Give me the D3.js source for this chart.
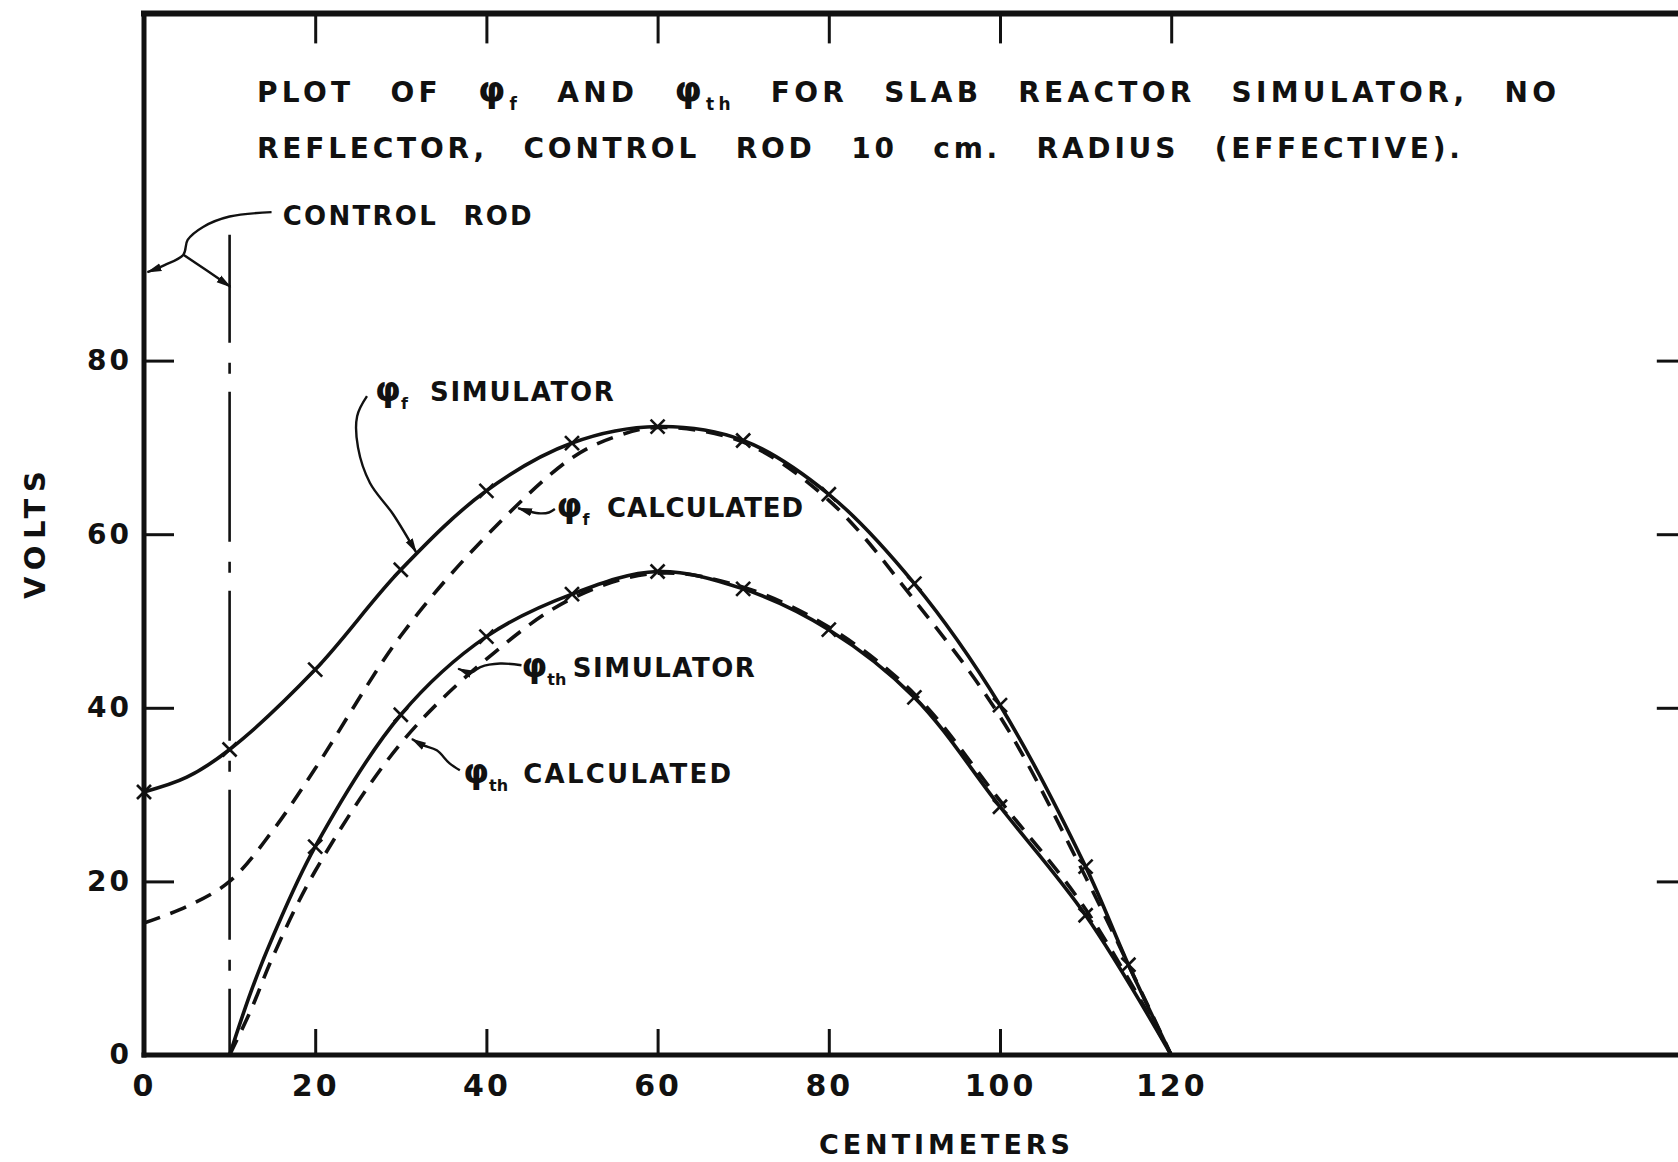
<!DOCTYPE html>
<html>
<head>
<meta charset="utf-8">
<script src="https://cdn.jsdelivr.net/npm/d3@7"></script>
<style>
  body { margin: 0; background: #fff; }
  svg { display: block; }
  text { font-family: "DejaVu Sans", sans-serif; font-weight: bold; fill: #111; }
</style>
</head>
<body>
<svg id="chart" width="1678" height="1162"></svg>
<script>
// readings: centimeters (x) vs volts (y)
var fSimX = [0, 5, 10, 20, 30, 40, 50, 60, 70, 80, 90, 100, 110, 115, 120];
var fSimV = [30.3, 32.0, 35.2, 44.4, 55.9, 65.0, 70.5, 72.4, 70.8, 64.6, 54.3, 40.3, 21.7, 10.4, 0];
var fCalcX = [0, 5, 10, 15, 20, 30, 40, 50, 55, 60, 70, 80, 90, 100, 110, 120];
var fCalcV = [15.2, 17.1, 20.0, 25.8, 33.0, 48.3, 59.8, 68.8, 71.2, 72.3, 70.6, 63.9, 52.4, 39.0, 20.5, 0];
var thSimX = [10, 12.5, 15, 20, 30, 40, 50, 60, 70, 80, 90, 100, 110, 120];
var thSimV = [0, 7.3, 13.5, 24.0, 39.2, 48.2, 53.1, 55.7, 53.7, 49.0, 41.2, 28.6, 16.1, 0];
var thCalcX = [10, 12.5, 15, 20, 30, 40, 50, 60, 70, 80, 90, 100, 110, 120];
var thCalcV = [0, 5.2, 11.2, 21.2, 35.9, 45.6, 52.6, 55.5, 53.9, 49.3, 41.6, 29.3, 16.8, 0];

// where the "x" marks sit on the simulator curves
var fSimMarks = [0, 10, 20, 30, 40, 50, 60, 70, 80, 90, 100, 110, 115];
var thSimMarks = [20, 30, 40, 50, 60, 70, 80, 90, 100, 110];

var xTickVals = [20, 40, 60, 80, 100];
var xTopTickVals = [20, 40, 60, 80, 100, 120];
var xLabelVals = [0, 20, 40, 60, 80, 100, 120];
var yTickVals = [20, 40, 60, 80];
var yLabelVals = [0, 20, 40, 60, 80];

var rodX = 10, rodTop = 94.5;

var svg = d3.select("#chart");
var x = d3.scaleLinear().domain([0, 180]).range([144, 144 + 180 * 8.56]);
var y = d3.scaleLinear().domain([0, 120]).range([1055, 13.4]);

// frame
var frame = svg.append("g").attr("stroke", "#111").attr("stroke-linecap", "square");
frame.append("line").attr("x1", x(0)).attr("x2", x(0)).attr("y1", y(120)).attr("y2", y(0)).attr("stroke-width", 5);
frame.append("line").attr("x1", x(0)).attr("x2", x(180)).attr("y1", y(120)).attr("y2", y(120)).attr("stroke-width", 6);
frame.append("line").attr("x1", x(0)).attr("x2", x(180)).attr("y1", y(0)).attr("y2", y(0)).attr("stroke-width", 5);
frame.append("line").attr("x1", x(180)).attr("x2", x(180)).attr("y1", y(120)).attr("y2", y(0)).attr("stroke-width", 5);

function ticksOnly(g) {
  g.select(".domain").remove();
  g.selectAll("line").attr("stroke", "#111").attr("stroke-width", 3);
}
function labelsOnly(g, size) {
  g.select(".domain").remove();
  g.selectAll("line").remove();
  g.selectAll("text").style("font-size", size + "px").style("letter-spacing", "3px").attr("fill", "#111");
}

svg.append("g").attr("transform", "translate(0," + y(0) + ")")
  .call(d3.axisBottom(x).tickValues(xTickVals).tickSize(-26).tickFormat("")).call(ticksOnly);
svg.append("g").attr("transform", "translate(0," + y(120) + ")")
  .call(d3.axisTop(x).tickValues(xTopTickVals).tickSize(-30).tickFormat("")).call(ticksOnly);
svg.append("g").attr("transform", "translate(" + x(0) + ",0)")
  .call(d3.axisLeft(y).tickValues(yTickVals).tickSize(-30).tickFormat("")).call(ticksOnly);
svg.append("g").attr("transform", "translate(" + x(180) + ",0)")
  .call(d3.axisRight(y).tickValues(yTickVals).tickSize(-28).tickFormat("")).call(ticksOnly);

svg.append("g").attr("transform", "translate(0," + y(0) + ")")
  .call(d3.axisBottom(x).tickValues(xLabelVals).tickSize(0).tickPadding(20)).call(labelsOnly, 30);
svg.append("g").attr("transform", "translate(" + x(0) + ",0)")
  .call(d3.axisLeft(y).tickValues(yLabelVals).tickSize(0).tickPadding(12)).call(labelsOnly, 28);

// axis titles
svg.append("text").attr("transform", "translate(45,535) rotate(-90)")
  .attr("text-anchor", "middle").style("font-size", "29px")
  .attr("textLength", 128).attr("lengthAdjust", "spacing").text("VOLTS");
svg.append("text").attr("x", 819).attr("y", 1154).style("font-size", "27px")
  .attr("textLength", 251).attr("lengthAdjust", "spacing").text("CENTIMETERS");

// title, with subscripts
function rich(text, parts, base) {
  var shift = 0;
  parts.forEach(function(p) {
    var want = p[1] === "sub" ? 8 : 0;
    var ts = text.append("tspan").attr("dy", want - shift).text(p[0]);
    shift = want;
    if (p[1] === "sub") ts.style("font-size", Math.round(base * 0.62) + "px");
    if (p[1] === "phi") ts.style("font-size", Math.round(base * 1.25) + "px");
  });
}
var t1 = svg.append("text").attr("x", 257).attr("y", 101.7).style("font-size", "28px")
  .style("word-spacing", "22px").attr("textLength", 1299).attr("lengthAdjust", "spacing");
rich(t1, [["PLOT OF "], ["φ", "phi"], ["f", "sub"], [" AND "], ["φ", "phi"], ["th", "sub"],
  [" FOR SLAB REACTOR SIMULATOR, NO"]], 28);
var t2 = svg.append("text").attr("x", 257).attr("y", 158.3).style("font-size", "28px")
  .style("word-spacing", "22px").attr("textLength", 1203).attr("lengthAdjust", "spacing");
rich(t2, [["REFLECTOR, CONTROL ROD 10 cm. RADIUS (EFFECTIVE)."]], 28);

// control rod boundary
svg.append("line").attr("x1", x(rodX)).attr("x2", x(rodX)).attr("y1", y(rodTop)).attr("y2", y(0))
  .attr("stroke", "#111").attr("stroke-width", 2.6)
  .attr("stroke-dasharray", "150,20,11,18").attr("stroke-dashoffset", 42);

// curves
function pairs(xs, vs) { return xs.map(function(d, i) { return [d, vs[i]]; }); }
var line = d3.line().x(function(d) { return x(d[0]); }).y(function(d) { return y(d[1]); })
  .curve(d3.curveCatmullRom.alpha(0.5));

var series = [
  { xs: fSimX, vs: fSimV, dash: null },
  { xs: fCalcX, vs: fCalcV, dash: "17,11" },
  { xs: thSimX, vs: thSimV, dash: null },
  { xs: thCalcX, vs: thCalcV, dash: "17,11" }
];
svg.append("g").selectAll("path").data(series).join("path")
  .attr("d", function(s) { return line(pairs(s.xs, s.vs)); })
  .attr("fill", "none").attr("stroke", "#111").attr("stroke-width", 3.6)
  .attr("stroke-dasharray", function(s) { return s.dash; });

// x marks
function marks(mx, xs, vs) {
  return mx.map(function(m) { return [m, vs[xs.indexOf(m)]]; });
}
var allMarks = marks(fSimMarks, fSimX, fSimV).concat(marks(thSimMarks, thSimX, thSimV));
var mk = svg.append("g").attr("stroke", "#111").attr("stroke-width", 2.6)
  .selectAll("g").data(allMarks).join("g")
  .attr("transform", function(d) { return "translate(" + x(d[0]) + "," + y(d[1]) + ")"; });
mk.append("line").attr("x1", -7).attr("y1", -7).attr("x2", 7).attr("y2", 7);
mk.append("line").attr("x1", -7).attr("y1", 7).attr("x2", 7).attr("y2", -7);

// annotation leaders (in data units)
svg.append("defs").append("marker").attr("id", "arr")
  .attr("markerUnits", "userSpaceOnUse").attr("markerWidth", 16).attr("markerHeight", 10)
  .attr("refX", 14).attr("refY", 5).attr("orient", "auto")
  .append("path").attr("d", "M0,1 L15,5 L0,9 Z").attr("fill", "#111");

var leaders = [
  [[14.9, 97.1], [10.0, 96.6], [6.9, 95.4], [5.1, 93.9], [4.6, 92.2], [2.4, 91.0], [0.4, 90.2]],
  [[4.6, 92.2], [7.3, 90.4], [10.1, 88.5]],
  [[26.05, 75.9], [24.9, 73.6], [25.0, 70.0], [26.4, 65.9], [29.1, 62.3], [31.8, 57.9]],
  [[48.0, 62.9], [47.3, 62.5], [46.3, 62.4], [45.1, 62.6], [43.7, 63.0]],
  [[44.1, 44.9], [41.6, 45.1], [39.3, 44.7], [38.3, 44.1], [36.7, 44.5]],
  [[36.9, 32.8], [35.7, 33.6], [34.2, 35.1], [32.6, 35.7], [31.3, 36.4]]
];
svg.append("g").selectAll("path").data(leaders).join("path")
  .attr("d", line).attr("fill", "none").attr("stroke", "#111").attr("stroke-width", 2.4)
  .attr("marker-end", "url(#arr)");

// curve labels
var notes = [
  { phiX: 27.0, sub: "f", word: "SIMULATOR", wordX: 33.4, len: 184, v: 75.3 },
  { phiX: 48.2, sub: "f", word: "CALCULATED", wordX: 54.1, len: 196, v: 62.0 },
  { phiX: 44.1, sub: "th", word: "SIMULATOR", wordX: 50.1, len: 182, v: 43.6 },
  { phiX: 37.3, sub: "th", word: "CALCULATED", wordX: 44.3, len: 208, v: 31.3 }
];
notes.forEach(function(n) {
  var p = svg.append("text").attr("x", x(n.phiX)).attr("y", y(n.v)).style("font-size", "26px");
  rich(p, [["φ", "phi"], [n.sub, "sub"]], 26);
  svg.append("text").attr("x", x(n.wordX)).attr("y", y(n.v)).style("font-size", "26px")
    .attr("textLength", n.len).attr("lengthAdjust", "spacing").text(n.word);
});
svg.append("text").attr("x", x(16.2)).attr("y", y(95.6)).style("font-size", "26px")
  .style("word-spacing", "14px").attr("textLength", 249).attr("lengthAdjust", "spacing")
  .text("CONTROL ROD");
</script>
</body>
</html>
